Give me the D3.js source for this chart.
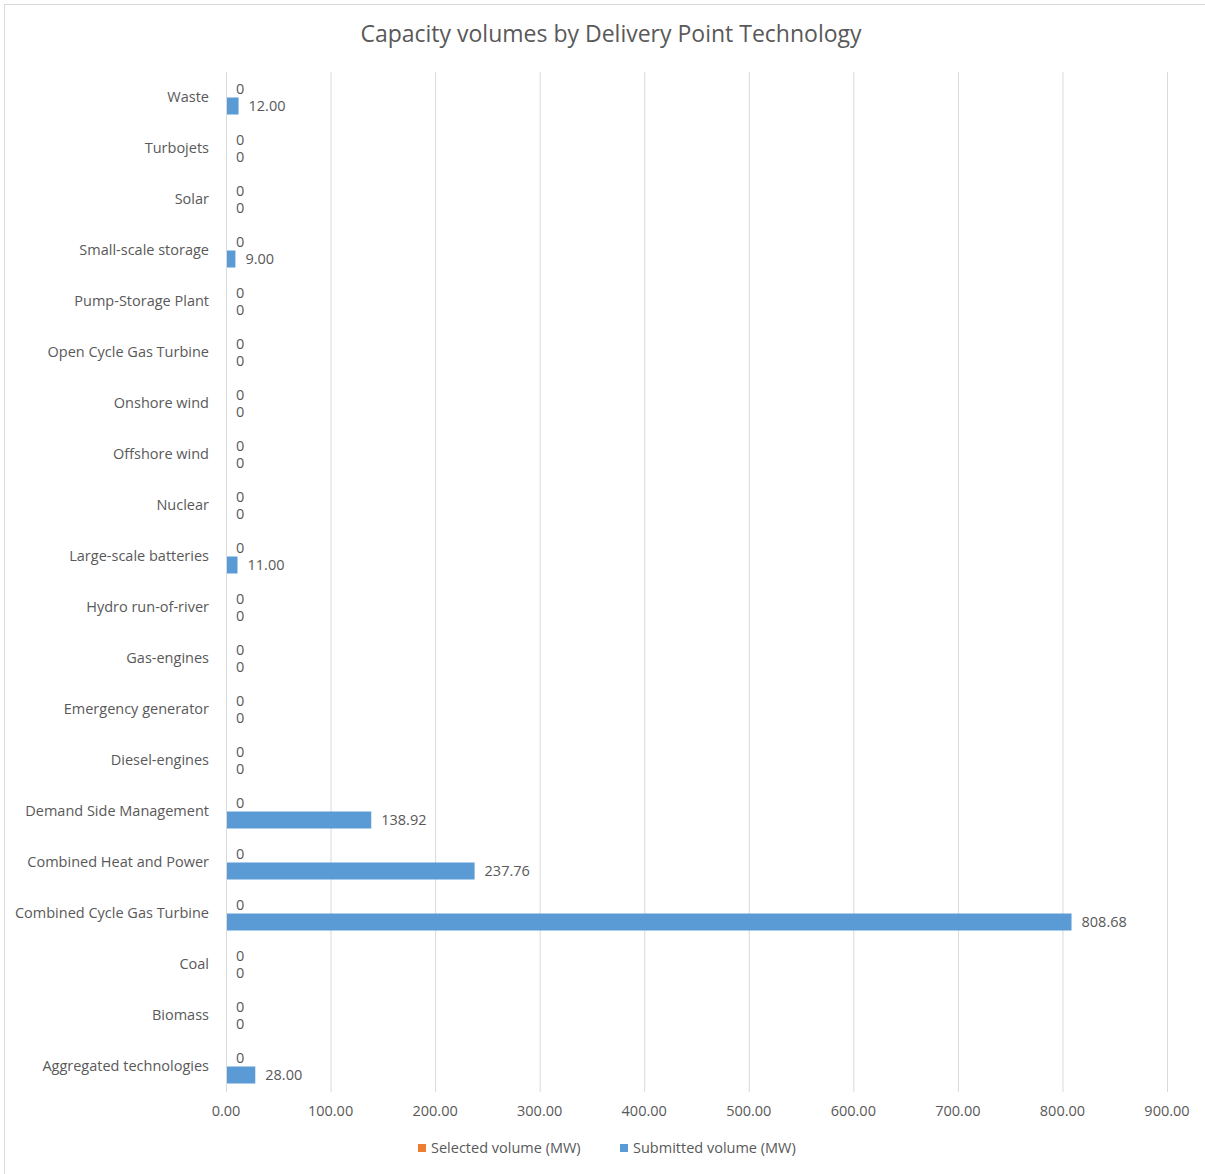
<!DOCTYPE html>
<meta charset="utf-8">
<style>
body { margin: 0; background: #fff; }
text { font-family: "Open Sans", "Noto Sans", sans-serif; fill: #595959; }
.grid line { stroke: #d9d9d9; stroke-width: 1px; }
</style>
<body>
<script src="https://d3js.org/d3.v7.min.js"></script>
<script>

// categories from top to bottom
var categories = ["Waste", "Turbojets", "Solar", "Small-scale storage", "Pump-Storage Plant",
  "Open Cycle Gas Turbine", "Onshore wind", "Offshore wind", "Nuclear", "Large-scale batteries",
  "Hydro run-of-river", "Gas-engines", "Emergency generator", "Diesel-engines",
  "Demand Side Management", "Combined Heat and Power", "Combined Cycle Gas Turbine",
  "Coal", "Biomass", "Aggregated technologies"];

var selected = [0, 0, 0, 0, 0, 0, 0, 0, 0, 0, 0, 0, 0, 0, 0, 0, 0, 0, 0, 0];
var submitted = [12, 0, 0, 9, 0, 0, 0, 0, 0, 11, 0, 0, 0, 0, 138.92, 237.76, 808.68, 0, 0, 28];

var seriesNames = ["Selected volume (MW)", "Submitted volume (MW)"];
var seriesColors = ["#ED7D31", "#5B9BD5"];
var xTicks = [0, 100, 200, 300, 400, 500, 600, 700, 800, 900];

var width = 1205, height = 1174;
var plot = {left: 226, right: 1167, top: 72, bottom: 1092};

var svg = d3.select("body").append("svg")
    .attr("width", width)
    .attr("height", height);

// chart border
svg.append("rect")
    .attr("x", 4.5).attr("y", 4.5)
    .attr("width", 1220).attr("height", 1200)
    .attr("fill", "none")
    .attr("stroke", "#d9d9d9");

var x = d3.scaleLinear().domain([0, 900]).range([plot.left, plot.right]);

var y = d3.scaleBand()
    .domain(categories)
    .range([plot.top, plot.bottom])
    .paddingInner(1 / 3)
    .paddingOuter(1 / 6);

var y1 = d3.scaleBand()
    .domain([0, 1])
    .range([0, y.bandwidth()]);

// title
svg.append("text")
    .attr("x", 611)
    .attr("y", 42)
    .attr("text-anchor", "middle")
    .style("font-size", "23px")
    .text("Capacity volumes by Delivery Point Technology");

// gridlines
svg.append("g")
    .attr("class", "grid")
    .selectAll("line")
    .data(xTicks)
    .enter().append("line")
    .attr("x1", function(d) { return x(d) + 0.5; })
    .attr("x2", function(d) { return x(d) + 0.5; })
    .attr("y1", plot.top)
    .attr("y2", plot.bottom);

// x axis tick labels
svg.append("g")
    .selectAll("text")
    .data(xTicks)
    .enter().append("text")
    .attr("x", function(d) { return x(d); })
    .attr("y", 1116)
    .attr("text-anchor", "middle")
    .style("font-size", "14.5px")
    .text(function(d) { return d.toFixed(2); });

// category labels
svg.append("g")
    .selectAll("text")
    .data(categories)
    .enter().append("text")
    .attr("x", 209)
    .attr("y", function(d) { return y(d) + y.bandwidth() / 2 - 1; })
    .attr("text-anchor", "end")
    .attr("dy", "0.35em")
    .style("font-size", "14.5px")
    .text(function(d) { return d; });

var rows = categories.map(function(c, i) {
  return {cat: c, vals: [selected[i], submitted[i]]};
});

var groups = svg.append("g")
    .selectAll("g")
    .data(rows)
    .enter().append("g")
    .attr("transform", function(d) { return "translate(0," + y(d.cat) + ")"; });

groups.selectAll("rect")
    .data(function(d) { return d.vals.map(function(v, k) { return {v: v, k: k}; }); })
    .enter().append("rect")
    .attr("x", x(0) + 1)
    .attr("y", function(d) { return y1(d.k); })
    .attr("width", function(d) { return Math.max(0, x(d.v) - x(0) - 1); })
    .attr("height", y1.bandwidth())
    .attr("fill", function(d) { return seriesColors[d.k]; });

groups.selectAll("text")
    .data(function(d) { return d.vals.map(function(v, k) { return {v: v, k: k}; }); })
    .enter().append("text")
    .attr("x", function(d) { return x(d.v) + 10; })
    .attr("y", function(d) { return y1(d.k) + y1.bandwidth() / 2; })
    .attr("dy", "0.35em")
    .style("font-size", "14.5px")
    .text(function(d) { return d.v === 0 ? "0" : d.v.toFixed(2); });

// legend
var legendX = [418, 620];
var legend = svg.append("g")
    .selectAll("g")
    .data(seriesNames)
    .enter().append("g")
    .attr("transform", function(d, i) { return "translate(" + legendX[i] + ",1148)"; });

legend.append("rect")
    .attr("x", 0).attr("y", -4)
    .attr("width", 8).attr("height", 8)
    .attr("fill", function(d, i) { return seriesColors[i]; });

legend.append("text")
    .attr("x", 13)
    .attr("y", 0)
    .attr("dy", "0.35em")
    .style("font-size", "14.5px")
    .text(function(d) { return d; });

</script>
</body>
